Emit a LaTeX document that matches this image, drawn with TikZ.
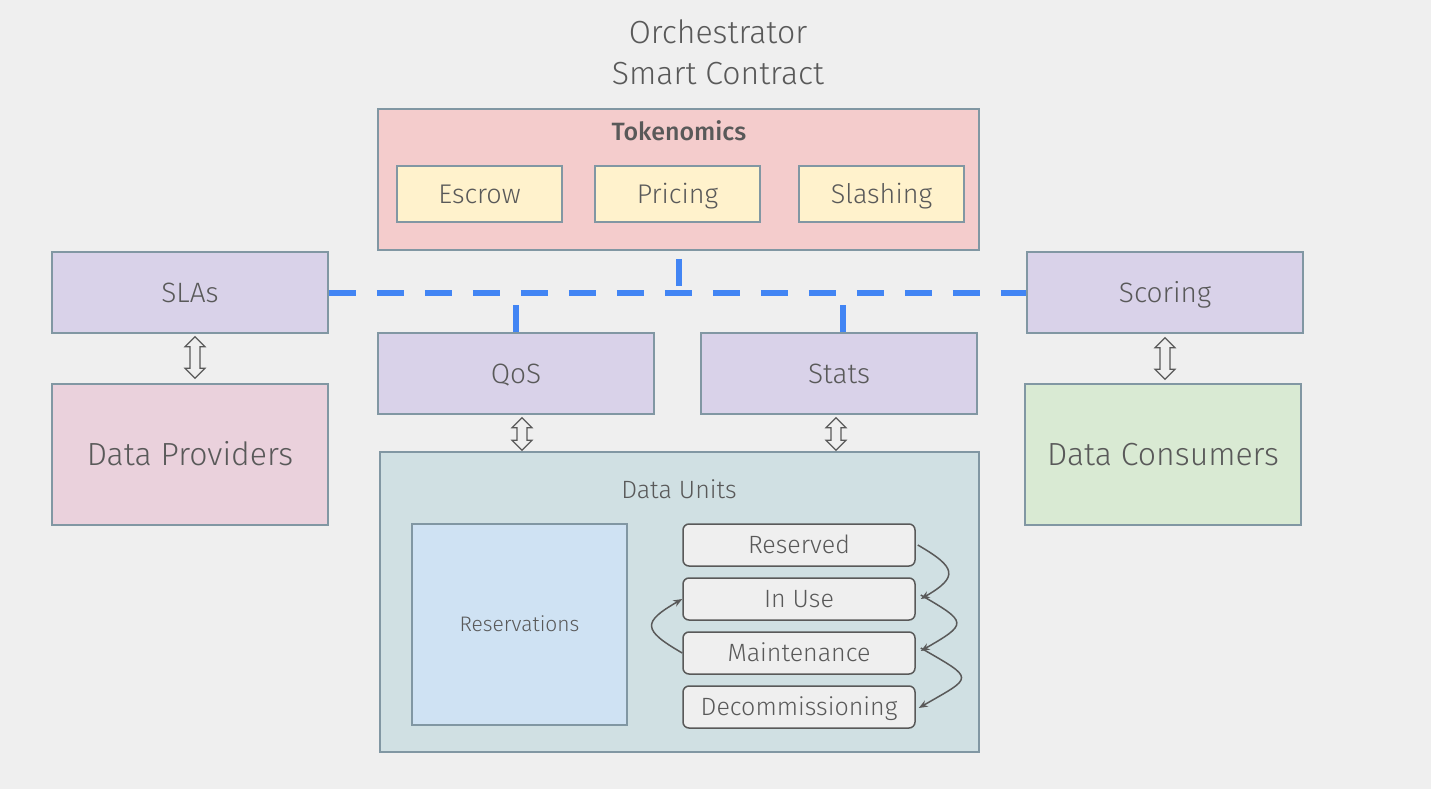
\documentclass[tikz,border=0pt]{standalone}
\usepackage{fontspec}
\setmainfont{Fira Sans}[UprightFont={* Light},BoldFont={* Medium}]
\usetikzlibrary{arrows.meta,calc}
\definecolor{bg}{HTML}{EFEFEF}
\definecolor{ink}{HTML}{595959}
\definecolor{edge}{HTML}{8197A3}
\definecolor{tokfill}{HTML}{F4CCCC}
\definecolor{partfill}{HTML}{FFF2CC}
\definecolor{modfill}{HTML}{D9D2E9}
\definecolor{provfill}{HTML}{EAD1DC}
\definecolor{consfill}{HTML}{D9EAD3}
\definecolor{unitfill}{HTML}{D0E0E3}
\definecolor{resvfill}{HTML}{CFE2F3}
\definecolor{busblue}{HTML}{4285F4}
% hollow double arrow between two points (top, bottom)
\newcommand{\hollowarrow}[2]{%
  \draw[dbl] #1 -- ++(10,10) -- ++(-5,0) -- ($#2+(5,-10)$) -- ++(5,0) -- #2
    -- ++(-10,-10) -- ++(5,0) -- ($#1+(-5,10)$) -- ++(-5,0) -- cycle;}

\begin{document}
\begin{tikzpicture}[x=1pt,y=-1pt,
    box/.style={draw=edge,line width=1.5pt,inner sep=0pt,text=ink,text depth=0pt},
    module/.style={box,fill=modfill,minimum width=276pt,minimum height=81pt,
      text height=19.3pt,font=\fontsize{28}{32}\selectfont},
    part/.style={box,fill=partfill,minimum width=165pt,minimum height=56pt,
      text height=18.6pt,font=\fontsize{27}{32}\selectfont},
    party/.style={box,minimum width=276pt,minimum height=141pt,
      text height=22pt,font=\fontsize{32}{36}\selectfont},
    state/.style={draw=ink,line width=1.5pt,fill=bg,rounded corners=6pt,text=ink,
      minimum width=232pt,minimum height=42pt,inner sep=0pt,
      text height=17.3pt,text depth=0pt,font=\fontsize{25}{30}\selectfont},
    dbl/.style={draw=ink,fill=bg,line width=1.2pt,line join=miter},
    bus/.style={draw=busblue,line width=6pt,dash pattern=on 27pt off 21pt},
    flow/.style={draw=ink,line width=1.5pt,-{Stealth[length=9pt,width=7pt]}}]
        \useasboundingbox[fill=bg] (0,0) rectangle (1431,789);

        \path
        (718,52) node[text=ink,align=center,font=\fontsize{32}{41}\selectfont](title) {Orchestrator\\Smart Contract}
        (678.5,179.5) node[box,fill=tokfill,minimum width=601pt,minimum height=141pt](tok) {}
        (679,131) node[text=ink,font=\fontsize{25}{30}\selectfont\bfseries](toklabel) {Tokenomics}
        (479.5,194) node[part](escrow) {Escrow}
        (677.5,194) node[part](pricing) {Pricing}
        (881.5,194) node[part](slashing) {Slashing}
        (190,292.5) node[module](slas) {SLAs}
        (516,373.5) node[module](qos) {QoS}
        (839,373.5) node[module](stats) {Stats}
        (1165,292.5) node[module](scoring) {Scoring}
        (190,454.5) node[party,fill=provfill](prov) {Data Providers}
        (1163,454.5) node[party,fill=consfill](cons) {Data Consumers}
        (679.5,602) node[box,fill=unitfill,minimum width=599pt,minimum height=300pt](units) {}
        (679,489) node[text=ink,font=\fontsize{25}{30}\selectfont](unitlabel) {Data Units}
        (519.5,624.5) node[box,fill=resvfill,minimum width=215pt,minimum height=201pt,
          text height=14.5pt,font=\fontsize{21}{25}\selectfont](resv) {Reservations}
        (799,545) node[state](reserved) {Reserved}
        (799,599) node[state](inuse) {In Use}
        (799,653) node[state](maint) {Maintenance}
        (799,707) node[state](decom) {Decommissioning}
        ;

        % dashed links to the contract
        \draw[bus] (slas.east) -- (scoring.west);
        \draw[bus,dash phase=40pt] (tok.south) -- (tok.south |- slas.east);
        \draw[bus] (qos.north) -- (qos.north |- slas.east);
        \draw[bus] ([xshift=4pt]stats.north) -- ([xshift=4pt]stats.north |- slas.east);

        % hollow double arrows
        \hollowarrow{([xshift=5pt,yshift=-3pt]slas.south)}{([xshift=5pt,yshift=5pt]prov.north)}
        \hollowarrow{([yshift=-4pt]scoring.south)}{([yshift=4pt]scoring.south |- cons.north)}
        \hollowarrow{([xshift=6pt,yshift=-3pt]qos.south)}{([xshift=6pt,yshift=1pt]qos.south |- units.north)}
        \hollowarrow{([xshift=-3pt,yshift=-3pt]stats.south)}{([xshift=-3pt,yshift=1pt]stats.south |- units.north)}

        % unit life cycle
        \draw[flow] ([xshift=2pt]reserved.east) to[out=-30,in=30,looseness=2.1] ([xshift=5pt]inuse.east);
        \draw[flow] ([xshift=5pt,yshift=4pt]inuse.east) to[out=-30,in=30,looseness=2.5] ([xshift=5pt,yshift=2pt]maint.east);
        \draw[flow] ([xshift=5pt,yshift=5pt]maint.east) to[out=-30,in=30,looseness=2.7] ([xshift=3pt,yshift=-1pt]decom.east);
        \draw[flow] (maint.west) to[out=150,in=210,looseness=2.2] (inuse.west);
      \end{tikzpicture}
\end{document}
